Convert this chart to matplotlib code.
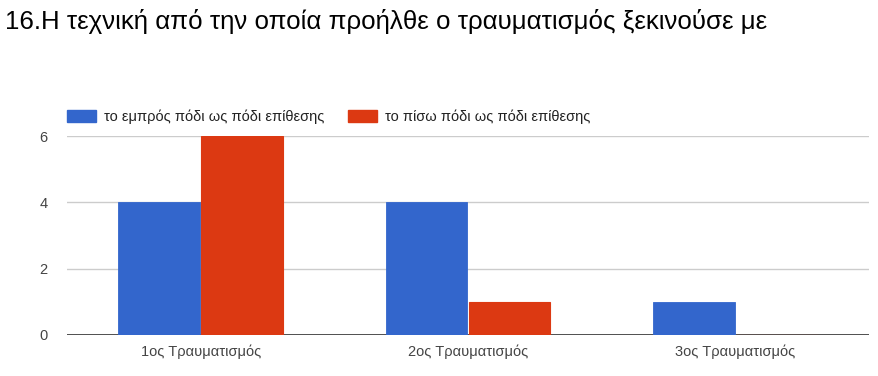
import matplotlib
matplotlib.use("Agg")
import matplotlib.pyplot as plt
import numpy as np
from matplotlib.patches import Patch

plt.rcParams['font.family'] = ['Liberation Sans', 'DejaVu Sans']

title = "16.Η τεχνική από την οποία προήλθε ο τραυματισμός ξεκινούσε με"
categories = ["1ος Τραυματισμός", "2ος Τραυματισμός", "3ος Τραυματισμός"]
series_names = ["το εμπρός πόδι ως πόδι επίθεσης", "το πίσω πόδι ως πόδι επίθεσης"]
front_foot = [4, 4, 1]
back_foot = [6, 1, 0]
colors = ["#3366cc", "#dc3912"]
yticks = [0, 2, 4, 6]

fig = plt.figure(figsize=(8.79, 3.76), dpi=100)
ax = fig.add_axes([67/879, 1-335/376, 802/879, 199/376])

x = np.arange(len(categories))
w = 0.305
ax.bar(x - w/2 - 0.003, front_foot, w, color=colors[0], edgecolor=colors[0], linewidth=0.6, zorder=3)
ax.bar(x + w/2 + 0.003, back_foot, w, color=colors[1], edgecolor=colors[1], linewidth=0.8, zorder=3)

ax.set_xlim(-0.5, 2.5)
ax.set_ylim(0, 6)
ax.set_yticks(yticks)
ax.set_yticklabels([str(v) for v in yticks])
ax.set_xticks(x)
ax.set_xticklabels(categories)
ax.grid(axis='y', color='#cccccc', linewidth=1, zorder=0)
ax.axhline(0, color='#333333', linewidth=1.2, zorder=2)
for s in ax.spines.values():
    s.set_visible(False)
ax.tick_params(axis='both', length=0, labelsize=10.5, colors='#444444')
ax.tick_params(axis='y', pad=14)
ax.tick_params(axis='x', pad=7)

fig.text(5/879, 1-22/376, title, fontsize=18.6, color='#000000', va='center', ha='left')

handles = [Patch(color=colors[0]), Patch(color=colors[1])]
fig.legend(handles, series_names, loc='center left', bbox_to_anchor=(54/879, 1-117/376),
           ncol=2, frameon=False, fontsize=10.5, handlelength=2.0, handleheight=0.9,
           handletextpad=0.55, columnspacing=1.6, labelcolor='#222222')

fig.savefig("out.png", dpi=100)
